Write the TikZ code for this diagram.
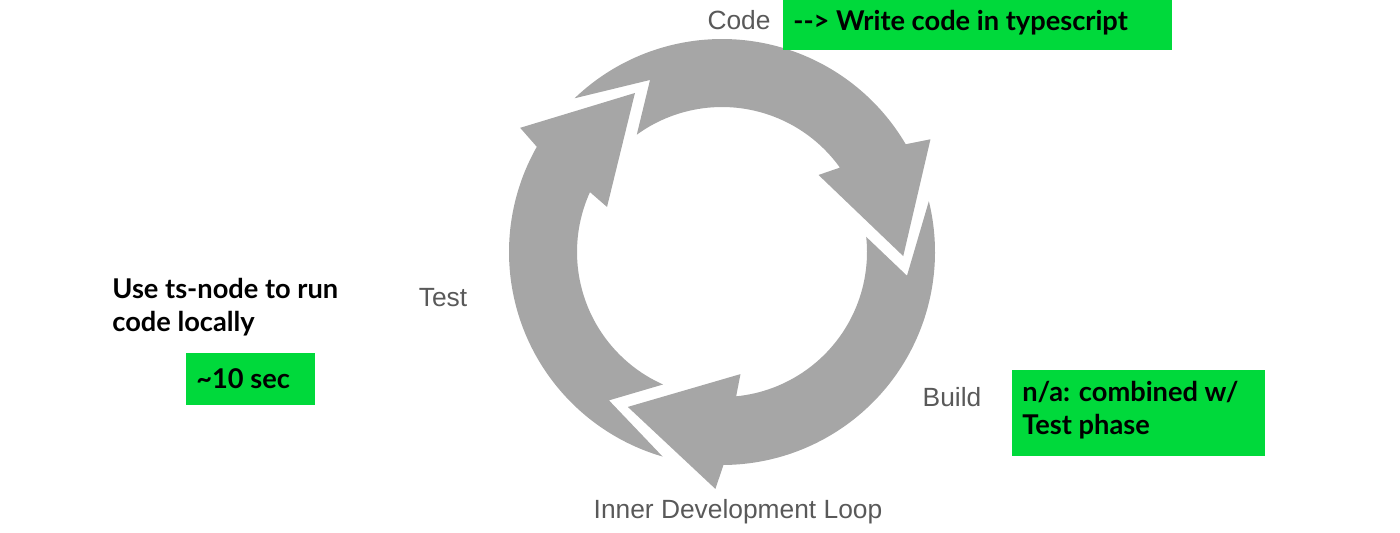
\documentclass[tikz,border=0pt]{standalone}
\usepackage{fontspec}
\setmainfont{Liberation Sans}
\newfontfamily\boldf{Lato}
\definecolor{ring}{HTML}{A6A6A6}
\definecolor{lab}{HTML}{595959}
\definecolor{grn}{HTML}{00D93B}
\tikzset{
  lbl/.style={text=lab,font=\fontsize{15}{18}\selectfont,inner sep=0pt},
  gbox/.style={fill=grn,inner sep=0pt,anchor=north west},
  btxt/.style={font=\boldf\bfseries\fontsize{15.5}{19}\selectfont,inner sep=0pt,anchor=west}
}
\begin{document}
\begin{tikzpicture}[x=0.02cm,y=-0.02cm]
\useasboundingbox (0,0) rectangle (1400,532);
\begin{scope}[shift={(722,252)},yscale=-1]
\foreach \a in {0,-120,-240}{
  \fill[ring] (253.8+\a:213) arc[start angle=253.8+\a,end angle=150.4+\a,radius=213]
    -- (148.4+\a:237) -- (118.7+\a:181.3) -- (158.6+\a:123.5) -- (155.6+\a:145)
    arc[start angle=155.6+\a,end angle=246+\a,radius=145]
    -- (232.7+\a:186.5) -- cycle;
}
\end{scope}
\node[lbl] (code) at (739,20) {Code};
\node[lbl] (test) at (443,298) {Test};
\node[lbl] (build) at (952,397) {Build};
\node[lbl] (loop) at (738,512) {Inner Development Loop};
\path[gbox] (783,0) rectangle (1172,50);
\node[btxt] (w) at (793,23) {-{}-> Write code in typescript};
\node[btxt,anchor=north west,align=left,font=\boldf\bfseries\fontsize{15.5}{18.5}\selectfont] (ts) at (112,278) {Use ts-node to run\\code locally};
\path[gbox] (186,353) rectangle (315,405);
\node[btxt] (sec) at (196,379) {\textasciitilde10 sec};
\path[gbox] (1012,370) rectangle (1265,456);
\node[btxt,anchor=north west,align=left,font=\boldf\bfseries\fontsize{15.5}{18.5}\selectfont] (na) at (1022,381) {n/a: combined w/\\Test phase};
\end{tikzpicture}
\end{document}
